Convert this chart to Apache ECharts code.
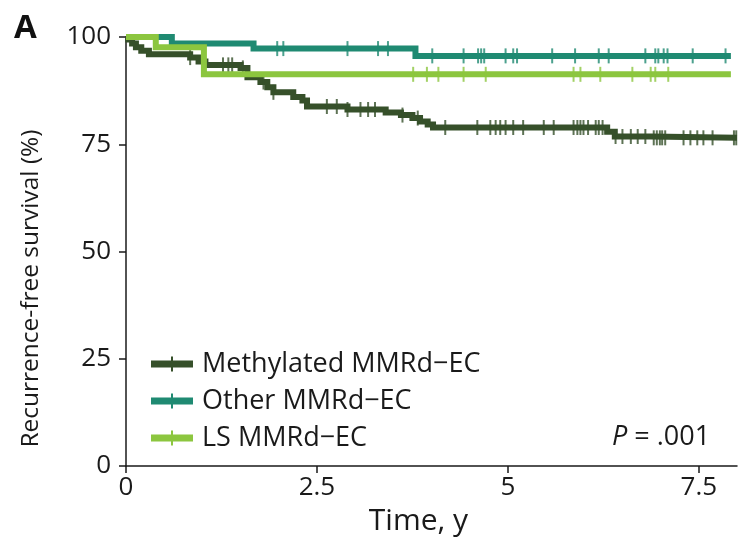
<!DOCTYPE html>
<html>
<head>
<meta charset="utf-8">
<script src="https://cdn.jsdelivr.net/npm/echarts@6/dist/echarts.min.js"></script>
<style>
  html, body { margin: 0; padding: 0; background: #ffffff; }
  #chart { width: 743px; height: 542px; }
</style>
</head>
<body>
<div id="chart"></div>
<script>
// Kaplan–Meier step data: event times (years) and survival (%) after each step
const methTimes = [0, 0.03, 0.08, 0.13, 0.2, 0.3, 0.84, 0.95, 1.04, 1.5, 1.59, 1.76, 1.85, 1.93, 2.19, 2.31, 2.37, 2.9, 3.4, 3.6, 3.75, 3.85, 3.95, 4.02, 6.3, 6.4, 6.87, 8.0];
const methSurv  = [100, 99.4, 98.5, 97.6, 96.8, 96.0, 95.2, 94.3, 93.5, 92.8, 90.6, 89.5, 88.3, 87.1, 86.0, 85.2, 83.8, 83.1, 82.4, 81.8, 81.1, 80.3, 79.6, 78.9, 77.9, 76.8, 76.5, 76.5];

const otherTimes = [0, 0.6, 1.67, 3.79, 7.92];
const otherSurv  = [100, 98.5, 97.3, 95.6, 95.6];

const lsTimes = [0, 0.39, 1.02, 7.92];
const lsSurv  = [100, 97.6, 91.3, 91.3];

// Censoring times (years)
const methCensor = [0.84, 1.27, 1.34, 1.39, 1.53, 1.80, 1.93, 2.63, 2.76, 2.90, 3.07, 3.17, 3.26, 3.62, 3.82, 4.18, 4.60, 4.77, 4.84, 4.90, 4.97, 5.07, 5.20, 5.47, 5.60, 5.86, 5.91, 5.95, 5.99, 6.05, 6.15, 6.19, 6.24, 6.41, 6.50, 6.61, 6.70, 6.80, 6.91, 6.95, 6.99, 7.02, 7.06, 7.30, 7.39, 7.48, 7.56, 7.68, 7.96, 7.99];
const otherCensor = [1.98, 2.06, 2.90, 3.30, 3.43, 4.01, 4.42, 4.61, 4.65, 4.69, 4.97, 5.07, 5.12, 5.58, 5.88, 6.19, 6.32, 6.80, 6.93, 6.97, 7.04, 7.09, 7.42, 7.85];
const lsCensor = [3.76, 3.94, 4.09, 4.42, 4.71, 5.86, 5.95, 6.21, 6.63, 6.87, 6.93, 7.10];

const groupNames = ['Methylated MMRd\u2212EC', 'Other MMRd\u2212EC', 'LS MMRd\u2212EC'];
const xTicks = [0, 2.5, 5, 7.5];
const yTicks = [0, 25, 50, 75, 100];

const colors = ['#36502a', '#1f8a72', '#8cc63f'];
const FONT = '"Open Sans", "DejaVu Sans", sans-serif';
const INK = '#1a1a1a';

function pairs(ts, vs) { return ts.map((t, i) => [t, vs[i]]); }
function survAt(ts, vs, t) {
  let v = vs[0];
  for (let i = 0; i < ts.length; i++) { if (ts[i] <= t) v = vs[i]; }
  return v;
}
function censorPts(c, ts, vs) { return c.map(t => [t, survAt(ts, vs, t)]); }

const curves = [
  { t: methTimes, v: methSurv, c: methCensor },
  { t: otherTimes, v: otherSurv, c: otherCensor },
  { t: lsTimes, v: lsSurv, c: lsCensor }
];

// legend glyph: a thick line segment with a small vertical censor tick
const legendIcon = 'path://M0,4 H42 V11 H0 Z M20,0 H22 V15 H20 Z';

const series = [];
curves.forEach((cv, i) => {
  series.push({
    name: groupNames[i],
    type: 'line',
    step: 'end',
    data: pairs(cv.t, cv.v),
    showSymbol: false,
    symbol: 'none',
    lineStyle: { color: colors[i], width: 6, cap: 'butt', join: 'miter' },
    itemStyle: { color: colors[i] },
    z: 2 + i,
    animation: false
  });
  series.push({
    name: groupNames[i] + ' censored',
    type: 'scatter',
    data: censorPts(cv.c, cv.t, cv.v),
    symbol: 'rect',
    symbolSize: [2, 15],
    itemStyle: { color: colors[i] },
    z: 2 + i,
    animation: false
  });
});

const chart = echarts.init(document.getElementById('chart'), null, { renderer: 'canvas' });
chart.setOption({
  backgroundColor: '#ffffff',
  animation: false,
  grid: { left: 126, right: 6, top: 37, bottom: 76, containLabel: false },
  xAxis: {
    type: 'value', min: 0, max: 8,
    name: 'Time, y', nameLocation: 'middle', nameGap: 40,
    nameTextStyle: { fontFamily: FONT, fontSize: 30, color: INK, padding: [0, 26, 0, 0] },
    axisLine: { show: true, onZero: false, lineStyle: { color: INK, width: 1.5 } },
    axisTick: { show: true, length: 7, customValues: xTicks, lineStyle: { color: INK, width: 1.5 } },
    axisLabel: { customValues: xTicks, fontFamily: FONT, fontSize: 26, color: INK, margin: 9,
                 formatter: v => String(v) },
    splitLine: { show: false }
  },
  yAxis: {
    type: 'value', min: 0, max: 100, interval: 25,
    name: 'Recurrence-free survival (%)', nameLocation: 'middle', nameGap: 82,
    nameTextStyle: { fontFamily: FONT, fontSize: 24.5, color: INK, padding: [0, 74, 0, 0] },
    axisLine: { show: true, onZero: false, lineStyle: { color: INK, width: 1.5 } },
    axisTick: { show: true, length: 7, lineStyle: { color: INK, width: 1.5 } },
    axisLabel: { customValues: yTicks, fontFamily: FONT, fontSize: 26, color: INK, margin: 15 },
    splitLine: { show: false }
  },
  legend: {
    orient: 'vertical', left: 146, top: 345,
    itemWidth: 42, itemHeight: 15, itemGap: 9,
    textStyle: { fontFamily: FONT, fontSize: 27, lineHeight: 28, color: INK, padding: [0, 0, 0, 4] },
    data: groupNames.map((n, i) => ({ name: n, icon: legendIcon, itemStyle: { color: colors[i] } })),
    selectedMode: false
  },
  graphic: [
    { type: 'text', left: 14, top: 12,
      style: { text: 'A', fontFamily: FONT, fontSize: 33, fontWeight: 'bold', fill: '#111' } },
    { type: 'text', left: 612, top: 424,
      style: { text: '{i|P} = .001', fill: INK, fontFamily: FONT, fontSize: 27,
               rich: { i: { fontStyle: 'italic', fontFamily: FONT, fontSize: 27, fill: INK } } } }
  ],
  series: series
});
</script>
</body>
</html>
